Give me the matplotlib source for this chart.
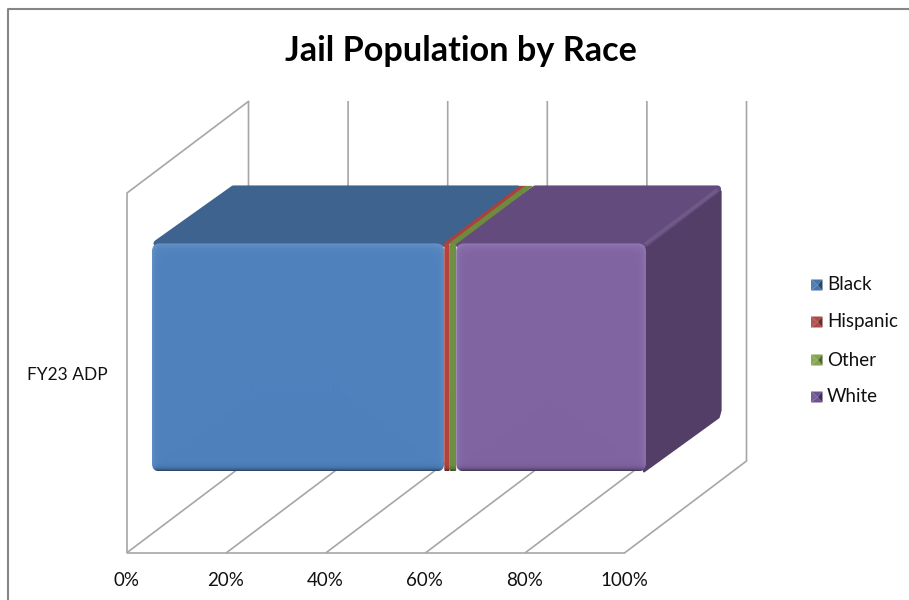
import numpy as np
import matplotlib
matplotlib.use('Agg')
import matplotlib.pyplot as plt
from matplotlib.patches import FancyBboxPatch, Polygon

plt.rcParams['font.family'] = ['Lato', 'DejaVu Sans']

title = 'Jail Population by Race'
category = 'FY23 ADP'
races = ['Black', 'Hispanic', 'Other', 'White']
shares = [59.3, 1.1, 1.3, 38.3]
tick_values = [0, 20, 40, 60, 80, 100]

front_colors = ['#4f81bd', '#b5443f', '#6f9040', '#8064a2']
top_colors = ['#3e638f', '#a8423f', '#6d8a3e', '#634c7d']
side_colors = ['#324f72', '#7f2f2d', '#556d30', '#523e66']
legend_colors = ['#3b6ea5', '#a8403d', '#7f9f45', '#64498c']

grid_color = '#a6a6a6'

# oblique projection of the chart box, in image pixels
X0, Y0 = 127, 553
PX_PER_PCT = 4.98
DEPTH_X, DEPTH_Y = 122, -92
WALL = 360


def project(pct, depth=0.0, z=0.0):
    return (X0 + pct * PX_PER_PCT + depth * DEPTH_X,
            Y0 + depth * DEPTH_Y - z)


def shade(color, amount):
    rgb = np.array(matplotlib.colors.to_rgb(color))
    if amount >= 0:
        return rgb + (1 - rgb) * amount
    return rgb * (1 + amount)


def front_face(ax, left, right, top, bottom, color, radius, rim):
    # bevelled face: flat colour, pale inner rim, dark line along the bottom
    w, h = int(round((right - left) * 4)), int(round((bottom - top) * 4))
    xx = (np.arange(w) + 0.5) / 4
    yy = (np.arange(h) + 0.5) / 4
    from_side = np.minimum(xx, xx[::-1])
    from_top = yy
    from_bot = yy[::-1]
    amount = np.zeros((h, w))
    amount += rim * np.exp(-from_side[None, :] / 3.0)
    amount += rim * 1.3 * np.exp(-from_top[:, None] / 4.0)
    amount -= 0.55 * np.exp(-from_bot[:, None] / 2.2)
    base = np.array(matplotlib.colors.to_rgb(color))
    img = np.where(amount[..., None] >= 0,
                   base + (1 - base) * amount[..., None],
                   base * (1 + amount[..., None]))
    box = FancyBboxPatch((left, top), right - left, bottom - top,
                         boxstyle=f'round,pad=0,rounding_size={radius}',
                         fc='none', ec='none', transform=ax.transData)
    ax.add_patch(box)
    im = ax.imshow(np.clip(img, 0, 1), extent=(left, right, bottom, top),
                   origin='upper', aspect='auto', zorder=5, interpolation='bilinear')
    im.set_clip_path(box)


fig = plt.figure(figsize=(9.09, 6), dpi=100)
ax = fig.add_axes([0, 0, 1, 1])
ax.axis('off')

# outer chart border
ax.plot([7.5, 7.5, 909], [600, 8.5, 8.5], color='#868686', lw=1.5, zorder=1)

# walls and gridlines
wall_kw = dict(color=grid_color, lw=1.2, zorder=2, solid_capstyle='butt')
for t in tick_values:
    fx, fy = project(t)
    bx, by = project(t, 1)
    tx, ty = project(t, 1, WALL)
    ax.plot([fx - 0.5, bx - 0.5, tx - 0.5], [fy, by, ty], **wall_kw)
    ax.text(fx - 1, 581, f'{t}%', ha='center', va='center', fontsize=13.5, color='#111111')
ax.plot(*zip(project(0), project(100)), **wall_kw)
ax.plot(*zip(project(0), project(0, 0, WALL), project(0, 1, WALL)), **wall_kw)

# stacked bar
D1, D2 = 0.18, 0.80
Z1, Z2 = 65, 293
EDGE_INSET = 3
cum = np.concatenate([[0], np.cumsum(shares)])
last = len(races) - 1

# side of the last block
sx0, sy0 = project(cum[-1], D1, Z1)
sx1, sy1 = project(cum[-1], D2, Z1)
tx0, ty0 = project(cum[-1], D1, Z2)
tx1, ty1 = project(cum[-1], D2, Z2)
ax.add_patch(Polygon([(sx0 - 3, sy0), (sx1 - 4, sy1 + 3), (sx1 - 2, sy1 - 4), (tx1 - 2, ty1 + 5),
                      (tx1 - 6, ty1 + 1), (tx0 - 1, ty0)],
                     fc=side_colors[last], ec=side_colors[last], lw=1.5,
                     joinstyle='round', zorder=3))

for i in range(len(races)):
    left, right = cum[i], cum[i + 1]
    a = np.array(project(left, D1, Z2))
    b = np.array(project(right, D1, Z2))
    c = np.array(project(right, D2, Z2))
    d = np.array(project(left, D2, Z2))
    lw = 0.8
    if i == 0:
        # rounded outer corners: pull the outline in and stroke it thick
        a = a + (8, 0)
        d = d + (9, 2.5)
        c = c + (-2, 2.5)
        b = b + (-1, 0)
        lw = 5
    elif i == last:
        a = a + (1.5, 0)
        d = d + (3.5, 2.5)
        b = b + (-1, 0)
        c = c + (-5, 2.5)
        lw = 5
    ax.add_patch(Polygon([a, b, c, d], fc=top_colors[i], ec=top_colors[i], lw=lw,
                         joinstyle='round', zorder=3 if i in (0, last) else 3.5))

for i in range(len(races)):
    left, right = cum[i], cum[i + 1]
    fl = project(left, D1, Z2)[0]
    fr = project(right, D1, Z2)[0]
    if i == 0:
        fl += EDGE_INSET
    if i == last:
        fr -= 1
    top_y = project(left, D1, Z2)[1]
    bottom_y = project(left, D1, Z1)[1]
    wide = shares[i] > 5
    front_face(ax, fl, fr, top_y, bottom_y, front_colors[i], 8 if wide else 2, 0.12 if wide else 0.0)

# light ridge where the top meets the side
ax.plot([tx0 - 1, tx1 - 6], [ty0, ty1 + 4], color=shade(top_colors[last], 0.08), lw=2.5,
        zorder=4, solid_capstyle='round')

# title and labels
ax.text(461, 51, title, ha='center', va='center', fontsize=24.7, fontweight='bold', color='black')
ax.text(67, 375, category, ha='center', va='center', fontsize=12.5, color='#111111')

# legend with pyramid keys
legend_y = [285, 322, 360, 397]
for name, col, y in zip(races, legend_colors, legend_y):
    l, r, t, b = 811, 822.5, y - 5.5, y + 5.5
    cx, cy = (l + r) / 2 + 1, (t + b) / 2
    ax.add_patch(Polygon([(l, t), (l, b), (cx, cy)], fc=shade(col, 0.12), ec='none', zorder=5))
    ax.add_patch(Polygon([(l, t), (r, t), (cx, cy)], fc=shade(col, 0.05), ec='none', zorder=5))
    ax.add_patch(Polygon([(l, b), (r, b), (cx, cy)], fc=shade(col, 0.05), ec='none', zorder=5))
    ax.add_patch(Polygon([(r, t), (r, b), (cx, cy)], fc=shade(col, -0.35), ec='none', zorder=5))
    ax.text(827, y, name, ha='left', va='center', fontsize=13.5, color='#111111')

ax.set_xlim(0, 909)
ax.set_ylim(600, 0)
fig.savefig('out.png', dpi=100, facecolor='white')
